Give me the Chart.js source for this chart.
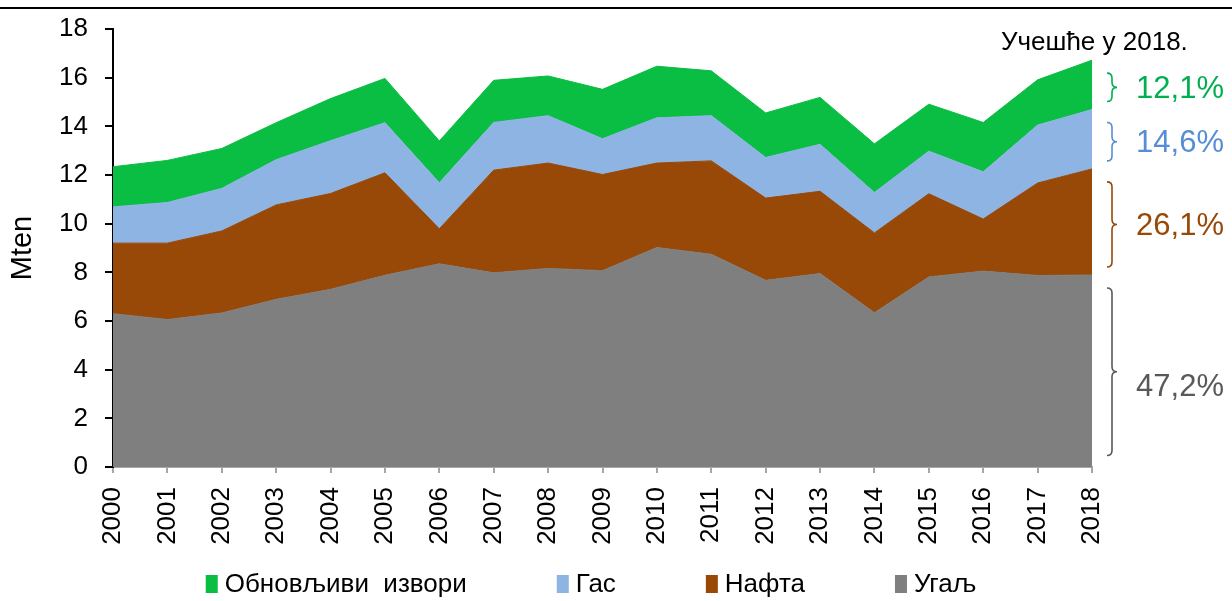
<!DOCTYPE html>
<html>
<head>
<meta charset="utf-8">
<script src="https://cdn.jsdelivr.net/npm/chart.js@4.4.1/dist/chart.umd.min.js"></script>
<style>
  html, body { margin: 0; padding: 0; background: #fff; }
  #wrap { width: 1232px; height: 601px; position: relative; }
</style>
</head>
<body>
<div id="wrap"><canvas id="energyChart"></canvas></div>
<script>
// primary energy by source, Mten
const years = ['2000', '2001', '2002', '2003', '2004', '2005', '2006', '2007', '2008', '2009',
  '2010', '2011', '2012', '2013', '2014', '2015', '2016', '2017', '2018'];
const coal = [6.30, 6.06, 6.33, 6.89, 7.30, 7.88, 8.35, 7.98, 8.16, 8.07, 9.02, 8.74, 7.67, 7.95, 6.34, 7.81, 8.05, 7.87, 7.89];
const oil = [2.90, 3.14, 3.37, 3.88, 3.94, 4.21, 1.44, 4.22, 4.33, 3.95, 3.47, 3.84, 3.38, 3.38, 3.28, 3.42, 2.14, 3.80, 4.36];
const gas = [1.49, 1.67, 1.75, 1.86, 2.17, 2.06, 1.89, 1.96, 1.95, 1.47, 1.86, 1.86, 1.67, 1.93, 1.66, 1.75, 1.94, 2.38, 2.44];
const renewables = [1.65, 1.73, 1.64, 1.52, 1.73, 1.82, 1.72, 1.73, 1.63, 2.03, 2.12, 1.84, 1.83, 1.93, 2.00, 1.93, 2.03, 1.86, 2.03];

const seriesNames = ['Угаљ', 'Нафта', 'Гас', 'Обновљиви  извори'];
const seriesColors = ['#7f7f7f', '#984807', '#8eb4e3', '#0abd43'];
const shareColors = ['#595959', '#984807', '#558ed5', '#00b050'];
const yTicks = [0, 2, 4, 6, 8, 10, 12, 14, 16, 18];

const FONT = "'Liberation Sans', Arial, sans-serif";

const series = [coal, oil, gas, renewables];
const datasets = series.map((data, i) => ({
  label: seriesNames[i],
  data: data,
  backgroundColor: seriesColors[i],
  borderColor: seriesColors[i],
  borderWidth: 1,
  pointRadius: 0,
  pointHoverRadius: 0,
  tension: 0,
  fill: i === 0 ? 'origin' : '-1'
}));

// a right-facing curly brace
function drawBrace(ctx, x, top, bottom, color) {
  const mid = (top + bottom) / 2;
  const r = 5;
  ctx.save();
  ctx.strokeStyle = color;
  ctx.lineWidth = 1.6;
  ctx.beginPath();
  ctx.moveTo(x, top);
  ctx.quadraticCurveTo(x + r, top, x + r, top + r);
  ctx.lineTo(x + r, mid - r);
  ctx.quadraticCurveTo(x + r, mid, x + 2 * r, mid);
  ctx.quadraticCurveTo(x + r, mid, x + r, mid + r);
  ctx.lineTo(x + r, bottom - r);
  ctx.quadraticCurveTo(x + r, bottom, x, bottom);
  ctx.stroke();
  ctx.restore();
}

// top rule, share braces for the last year and the legend row
const decorations = {
  id: 'decorations',
  afterDraw(chart) {
    const { ctx, chartArea, scales } = chart;
    const y = scales.y;
    const last = years.length - 1;

    ctx.save();
    ctx.fillStyle = '#000';
    ctx.fillRect(0, 7, chart.width, 2);

    ctx.font = '26px ' + FONT;
    ctx.textBaseline = 'middle';
    ctx.textAlign = 'left';
    ctx.fillText('Учешће у ' + years[last] + '.', chartArea.right - 91, 43);

    const total = series.reduce((s, arr) => s + arr[last], 0);
    let cum = 0;
    series.forEach((arr, i) => {
      const v = arr[last];
      const yBottom = y.getPixelForValue(cum);
      const yTop = y.getPixelForValue(cum + v);
      cum += v;
      const top = yTop + 13;
      const bottom = Math.min(yBottom - 8, yBottom - (yBottom - yTop) * 0.06);
      drawBrace(ctx, chartArea.right + 15, top, bottom, shareColors[i]);
      const share = (v / total * 100).toFixed(1).replace('.', ',') + '%';
      ctx.font = '31px ' + FONT;
      ctx.fillStyle = shareColors[i];
      ctx.textAlign = 'center';
      // the largest band carries its label a little below the brace tip
      const shift = i === 0 ? 16 : 2;
      ctx.fillText(share, chartArea.right + 88, (top + bottom) / 2 + shift);
    });

    // legend, listed top layer first
    ctx.font = '26px ' + FONT;
    ctx.textAlign = 'left';
    const order = [3, 2, 1, 0];
    const boxW = 12, boxH = 18, gapText = 7, gapItem = 90;
    const widths = order.map(i => boxW + gapText + ctx.measureText(seriesNames[i]).width);
    const totalW = widths.reduce((a, b) => a + b, 0) + gapItem * (order.length - 1);
    let lx = 591 - totalW / 2;
    const ly = 584;
    order.forEach((i, k) => {
      ctx.fillStyle = seriesColors[i];
      ctx.fillRect(lx, ly - boxH / 2, boxW, boxH);
      ctx.fillStyle = '#000';
      ctx.fillText(seriesNames[i], lx + boxW + gapText, ly + 1);
      lx += widths[k] + gapItem;
    });
    ctx.restore();
  }
};

new Chart(document.getElementById('energyChart'), {
  type: 'line',
  data: { labels: years, datasets: datasets },
  options: {
    responsive: true,
    maintainAspectRatio: false,
    animation: false,
    events: [],
    layout: { padding: { top: 29, right: 140, bottom: 0, left: 0 } },
    plugins: {
      legend: { display: false },
      tooltip: { enabled: false }
    },
    scales: {
      x: {
        z: 1,
        offset: false,
        afterFit(scale) {
          scale.height = 134;
          scale.paddingLeft = 0;
          scale.paddingRight = 0;
        },
        border: { color: '#a6a6a6', width: 2 },
        grid: { drawOnChartArea: false, drawTicks: true, tickLength: 6, color: '#a6a6a6', lineWidth: 2 },
        ticks: {
          color: '#000',
          font: { family: FONT, size: 26 },
          minRotation: 90,
          maxRotation: 90,
          padding: 14,
          autoSkip: false
        }
      },
      y: {
        z: 1,
        stacked: true,
        min: 0,
        max: 18,
        afterFit(scale) {
          scale.width = 113;
          scale.paddingTop = 0;
          scale.paddingBottom = 0;
        },
        afterBuildTicks(scale) { scale.ticks = yTicks.map(v => ({ value: v })); },
        border: { color: '#000', width: 2 },
        grid: { drawOnChartArea: false, drawTicks: true, tickLength: 8, color: '#000', lineWidth: 2 },
        ticks: {
          color: '#000',
          font: { family: FONT, size: 26 },
          padding: 17
        },
        title: {
          display: true,
          text: 'Mten',
          color: '#000',
          font: { family: FONT, size: 29 },
          padding: { top: 6, bottom: 0 }
        }
      }
    }
  },
  plugins: [decorations]
});
</script>
</body>
</html>
